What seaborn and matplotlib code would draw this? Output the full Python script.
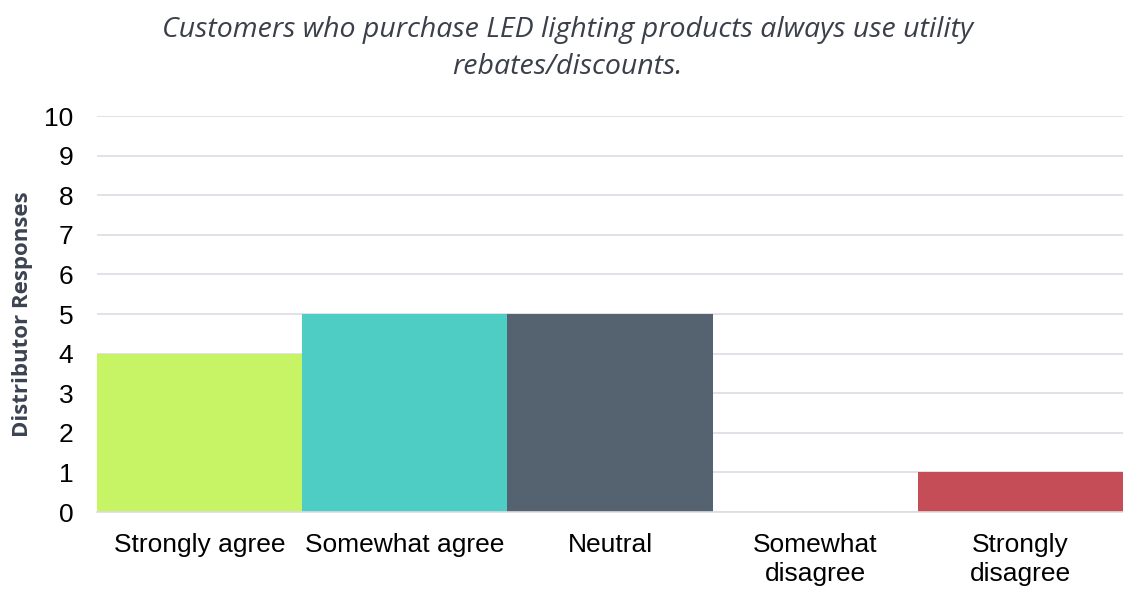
import matplotlib
matplotlib.use("Agg")
import matplotlib.pyplot as plt
import seaborn as sns
import pandas as pd

categories = ["Strongly agree", "Somewhat agree", "Neutral", "Somewhat\ndisagree", "Strongly\ndisagree"]
values = [4, 5, 5, 0, 1]
colors = ["#C7F464", "#4ECDC4", "#556270", "#FF6B6B", "#C44D58"]
yticks = list(range(0, 11))

title = "Customers who purchase LED lighting products always use utility\nrebates/discounts."
ylabel = "Distributor Responses"

sns.set_theme(style="white")
plt.rcParams["font.family"] = ["Liberation Sans", "DejaVu Sans"]

df = pd.DataFrame({"category": categories, "value": values})

fig = plt.figure(figsize=(11.23, 5.89), dpi=100)
ax = fig.add_axes([0.0864, 0.1307, 0.9136, 0.6723])

sns.barplot(data=df, x="category", y="value", hue="category", palette=colors,
            width=1.0, saturation=1.0, legend=False, ax=ax, zorder=2,
            linewidth=0, edgecolor="none")

ax.set_ylim(0, 10)
ax.set_xlim(-0.5, 4.5)
ax.set_yticks(yticks)
ax.yaxis.grid(True, color="#dcdce3", linewidth=1.2, zorder=0)
ax.set_axisbelow(True)
for s in ["top", "right", "left"]:
    ax.spines[s].set_visible(False)
ax.spines["bottom"].set_color("#dcdce3")
ax.spines["bottom"].set_linewidth(1.2)
ax.tick_params(axis="both", length=0, labelsize=19, colors="black")
ax.tick_params(axis="y", pad=17)
ax.tick_params(axis="x", pad=15)
for lab in ax.get_xticklabels():
    lab.set_linespacing(1.25)
ax.set_xlabel("")
ax.set_ylabel(ylabel, fontsize=16, fontweight="bold", color="#3b4252",
              family=["Open Sans", "DejaVu Sans"], labelpad=8)

fig.text(0.505, 0.972, title, ha="center", va="top", fontsize=20.5, style="italic",
         color="#3a3f4a", family=["Open Sans", "DejaVu Sans"], linespacing=1.4)

fig.savefig("out.png", dpi=100)
